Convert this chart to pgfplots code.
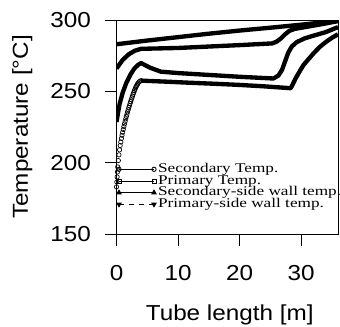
\documentclass[border=0pt]{standalone}
\usepackage{fontspec}
\usepackage{pgfplots}
\pgfplotsset{compat=1.18}
\newfontfamily\labelfont[FakeStretch=1.12]{Liberation Sans}
\newfontfamily\legfont[FakeStretch=1.29]{Liberation Serif}
\begin{document}
\begin{tikzpicture}
\begin{axis}[
  name=ax,
  scale only axis,
  width=132.9pt, height=128.4pt,
  xmin=0, xmax=36, ymin=150, ymax=300,
  xtick={0,10,20,30}, ytick={150,200,250,300},
  xtick pos=left, ytick pos=left,
  tick align=outside,
  major tick length=7pt,
  axis line style={line width=0.6pt},
  tick style={line width=0.6pt, black},
  /pgf/number format/assume math mode=true,
  ticklabel style={font=\labelfont\fontsize{13}{15}\selectfont},
  yticklabel style={xshift=-4.8pt},
  xticklabel style={yshift=-8.4pt},
  label style={font=\labelfont\fontsize{13}{15}\selectfont},
  xlabel={Tube length [m]},
  ylabel={Temperature [°C]},
  xlabel style={at={(axis description cs:0.511,-0.378)}, anchor=center},
  ylabel style={at={(axis description cs:-0.425,0.5)}, anchor=center, rotate=0},
  legend style={at={(axis description cs:0,0.11)}, anchor=south west,
    draw=none, fill=none, inner sep=0pt,
    font=\legfont\fontsize{8}{8}\selectfont,
    nodes={inner ysep=0.5pt, inner xsep=1.2pt, text height=4.9pt, text depth=1.1pt},
    row sep=0pt},
  legend cell align=left,
  legend image code/.code={\draw[mark repeat=2,mark phase=1,#1] plot coordinates {(0pt,0pt) (10.5pt,0pt) (21pt,0pt)};},
]
\addlegendimage{black, line width=0.5pt, mark=o, mark size=1.3pt, mark options={solid, line width=0.5pt}}
\addlegendentry{Secondary Temp.}
\addlegendimage{black, line width=0.5pt, mark=square, mark size=1.2pt, mark options={solid, line width=0.5pt}}
\addlegendentry{Primary Temp.}
\addlegendimage{black, line width=0.5pt, mark=triangle*, mark size=1.5pt, mark options={solid}}
\addlegendentry{Secondary-side wall temp.}
\addlegendimage{black, line width=0.5pt, dashed, mark=triangle*, mark size=1.5pt, mark options={solid, rotate=180}}
\addlegendentry{Primary-side wall temp.}

% Primary Temp.
\addplot[black, line width=2.6pt, line join=round, forget plot] coordinates {
(0,283) (5,285.6) (10,288) (15,290.4) (20,292.6) (25,294.6) (30,296.7) (36,299.5)};
% Primary-side wall temp.
\addplot[black, line width=2.6pt, line join=round, forget plot] coordinates {
(0,266) (0.5,269) (1,272) (2,276) (3,278.5) (4,279.8) (10,280.4) (15,281.4) (20,282.4) (25.3,283.6)
(26,284.8) (26.7,287) (27.4,290) (28.1,292.4) (29,293.8) (31,295.3) (33,296.8) (36,299.2)};
% Secondary-side wall temp.
\addplot[black, line width=2.6pt, line join=round, forget plot] coordinates {
(0,228.5) (0.25,235) (0.5,241) (1,249) (1.6,256) (2.3,262) (2.9,266) (3.5,268.5) (4,269.8)
(5.5,266.5) (7.2,263.8) (10,262.8) (15,261.5) (20,260.2) (25.5,259) (26.3,261) (26.9,265)
(27.4,271) (27.9,277) (28.5,281.5) (29.3,284.5) (30.5,287) (32,289) (34,291.5) (36,295)};
% Secondary Temp. (steep part, chain of circles)
\addplot[black, line width=0.4pt, only marks, mark=o, mark size=1.3pt, forget plot] coordinates {
(0,183) (0.05,186.5) (0.1,190) (0.15,193.5) (0.2,197) (0.3,201.5) (0.4,205.5) (0.5,209) (0.6,212)
(0.7,214.5) (0.8,217) (0.9,219.2) (1.0,221.3) (1.1,223.3) (1.2,225.3) (1.3,227.2) (1.4,229)
(1.5,230.7) (1.6,232.4) (1.7,234) (1.8,235.6) (1.9,237.1) (2.0,238.6) (2.1,240) (2.2,241.4)
(2.3,242.8) (2.4,244.1) (2.5,245.4) (2.6,246.7) (2.7,248) (2.8,249.2) (2.9,250.4) (3.0,251.5)
(3.1,252.5) (3.2,253.4) (3.3,254.2) (3.4,255) (3.5,255.7) (3.65,256.5) (3.8,257.1) (4.0,257.5)};
% Secondary Temp. (rest)
\addplot[black, line width=2.6pt, line join=round, forget plot] coordinates {
(4,257.5) (8,256.8) (12,256) (16,255.3) (20,254.5) (24,253.5) (28.3,252.2) (28.6,254.5)
(29.1,259) (29.9,265) (30.4,268.5) (31,271.5) (32,276.5) (33,281) (34,284.5) (35,287.5) (36,290)};
\end{axis}
\pgfresetboundingbox
\path[use as bounding box] ([shift={(-69.9pt,-55.2pt)}]ax.south west) rectangle ([shift={(1.2pt,12pt)}]ax.north east);
\end{tikzpicture}
\end{document}
